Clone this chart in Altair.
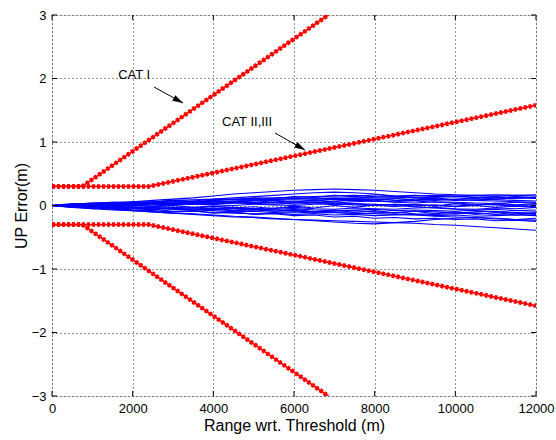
import altair as alt
import pandas as pd

# ---------------- data ----------------
blue_x = [0, 500, 1000, 1500, 2000, 2500, 3000, 3500, 4000, 4500, 5000, 5500,
          6000, 6500, 7000, 7500, 8000, 8500, 9000, 9500, 10000, 10500, 11000,
          11500, 12000]

trace_01 = [0, 0.02, 0.04, 0.05, 0.06, 0.08, 0.10, 0.12, 0.15, 0.18, 0.20, 0.22, 0.24, 0.25, 0.26, 0.25, 0.24, 0.22, 0.20, 0.18, 0.17, 0.16, 0.15, 0.16, 0.15]
trace_02 = [0, 0.01, 0.03, 0.04, 0.05, 0.06, 0.08, 0.09, 0.10, 0.12, 0.14, 0.16, 0.18, 0.20, 0.21, 0.20, 0.18, 0.15, 0.12, 0.10, 0.08, 0.09, 0.10, 0.12, 0.13]
trace_03 = [0, 0.02, 0.03, 0.05, 0.04, 0.06, 0.07, 0.06, 0.08, 0.10, 0.11, 0.12, 0.13, 0.14, 0.15, 0.16, 0.14, 0.13, 0.12, 0.13, 0.14, 0.13, 0.12, 0.14, 0.12]
trace_04 = [0, 0.01, 0.02, 0.02, 0.03, 0.04, 0.03, 0.05, 0.06, 0.05, 0.07, 0.08, 0.09, 0.08, 0.10, 0.09, 0.10, 0.11, 0.09, 0.08, 0.10, 0.11, 0.09, 0.08, 0.07]
trace_05 = [0, 0.00, 0.01, 0.02, 0.01, 0.03, 0.04, 0.03, 0.02, 0.04, 0.05, 0.04, 0.06, 0.05, 0.04, 0.06, 0.07, 0.05, 0.04, 0.06, 0.05, 0.04, 0.03, 0.05, 0.04]
trace_06 = [0, -0.01, 0.00, 0.01, 0.00, -0.01, 0.01, 0.02, 0.01, 0.00, 0.02, 0.01, 0.00, 0.02, 0.03, 0.01, 0.00, 0.02, 0.01, 0.00, -0.01, 0.01, 0.02, 0.00, 0.01]
trace_07 = [0, -0.01, -0.02, -0.01, -0.03, -0.02, -0.03, -0.04, -0.02, -0.03, -0.05, -0.04, -0.03, -0.05, -0.06, -0.04, -0.05, -0.06, -0.04, -0.03, -0.05, -0.06, -0.04, -0.05, -0.03]
trace_08 = [0, -0.02, -0.03, -0.04, -0.05, -0.04, -0.06, -0.07, -0.06, -0.08, -0.07, -0.09, -0.08, -0.10, -0.09, -0.08, -0.10, -0.11, -0.09, -0.10, -0.12, -0.10, -0.09, -0.11, -0.10]
trace_09 = [0, -0.02, -0.04, -0.05, -0.07, -0.08, -0.10, -0.09, -0.11, -0.12, -0.13, -0.12, -0.14, -0.13, -0.15, -0.14, -0.16, -0.15, -0.14, -0.16, -0.15, -0.17, -0.16, -0.15, -0.16]
trace_10 = [0, -0.03, -0.05, -0.07, -0.08, -0.10, -0.12, -0.14, -0.16, -0.18, -0.19, -0.21, -0.22, -0.23, -0.24, -0.25, -0.26, -0.27, -0.28, -0.30, -0.31, -0.33, -0.35, -0.37, -0.39]
trace_11 = [0, -0.02, -0.04, -0.06, -0.08, -0.10, -0.12, -0.13, -0.15, -0.17, -0.18, -0.20, -0.22, -0.24, -0.26, -0.28, -0.29, -0.27, -0.25, -0.22, -0.20, -0.19, -0.21, -0.22, -0.20]
trace_12 = [0, 0.01, 0.02, 0.03, 0.02, 0.04, 0.06, 0.05, 0.07, 0.06, 0.08, 0.07, 0.05, 0.06, 0.04, 0.03, 0.02, 0.00, -0.02, -0.04, -0.06, -0.08, -0.10, -0.12, -0.14]
trace_13 = [0, 0.00, -0.01, 0.00, 0.02, 0.01, 0.03, 0.04, 0.05, 0.07, 0.09, 0.10, 0.11, 0.12, 0.11, 0.12, 0.13, 0.14, 0.15, 0.16, 0.15, 0.16, 0.17, 0.16, 0.17]
trace_14 = [0, -0.01, -0.02, -0.03, -0.02, -0.04, -0.05, -0.06, -0.05, -0.04, -0.06, -0.07, -0.08, -0.10, -0.11, -0.12, -0.13, -0.14, -0.15, -0.17, -0.18, -0.19, -0.20, -0.22, -0.23]
trace_15 = [0, 0.01, 0.00, 0.02, 0.03, 0.02, 0.01, 0.02, 0.03, 0.04, 0.03, 0.02, 0.04, 0.05, 0.07, 0.08, 0.07, 0.06, 0.08, 0.10, 0.09, 0.08, 0.07, 0.06, 0.05]
trace_16 = [0, -0.01, -0.03, -0.02, -0.04, -0.06, -0.05, -0.07, -0.08, -0.10, -0.09, -0.11, -0.10, -0.12, -0.11, -0.13, -0.12, -0.11, -0.13, -0.14, -0.13, -0.12, -0.14, -0.13, -0.12]
trace_17 = [0, 0.01, 0.03, 0.02, 0.04, 0.05, 0.04, 0.06, 0.08, 0.09, 0.10, 0.09, 0.11, 0.10, 0.12, 0.11, 0.10, 0.08, 0.07, 0.05, 0.04, 0.02, 0.01, -0.01, -0.02]
trace_18 = [0, -0.02, -0.01, -0.03, -0.04, -0.03, -0.05, -0.04, -0.06, -0.05, -0.07, -0.06, -0.05, -0.07, -0.08, -0.07, -0.06, -0.08, -0.07, -0.08, -0.09, -0.07, -0.06, -0.08, -0.07]
trace_19 = [0, 0.03, 0.01, 0.04, 0.02, 0.05, 0.03, 0.07, 0.04, 0.06, 0.03, 0.05, 0.02, 0.04, 0.01, 0.03, 0.00, 0.02, -0.01, 0.01, -0.02, 0.00, -0.03, -0.01, -0.02]
trace_20 = [0, -0.03, -0.01, -0.04, -0.02, -0.06, -0.03, -0.07, -0.04, -0.08, -0.05, -0.09, -0.06, -0.10, -0.07, -0.11, -0.08, -0.12, -0.09, -0.13, -0.10, -0.14, -0.11, -0.15, -0.12]
trace_21 = [0, 0.02, -0.01, 0.03, 0.00, 0.04, 0.01, 0.05, 0.02, 0.06, 0.04, 0.08, 0.05, 0.09, 0.06, 0.10, 0.07, 0.11, 0.08, 0.12, 0.09, 0.13, 0.10, 0.12, 0.11]
trace_22 = [0, -0.02, 0.01, -0.01, 0.02, -0.02, 0.00, -0.03, -0.01, -0.04, -0.02, -0.05, -0.01, -0.04, 0.00, -0.03, 0.01, -0.02, 0.02, -0.01, 0.03, 0.00, 0.04, 0.01, 0.03]
trace_23 = [0, 0.02, 0.04, 0.03, 0.06, 0.05, 0.08, 0.07, 0.10, 0.09, 0.12, 0.11, 0.14, 0.13, 0.16, 0.14, 0.17, 0.15, 0.16, 0.14, 0.15, 0.13, 0.14, 0.12, 0.13]
trace_24 = [0, -0.02, -0.05, -0.04, -0.07, -0.06, -0.09, -0.08, -0.12, -0.10, -0.14, -0.13, -0.16, -0.15, -0.18, -0.17, -0.20, -0.19, -0.21, -0.20, -0.22, -0.21, -0.24, -0.23, -0.25]

blue_traces = [trace_01, trace_02, trace_03, trace_04, trace_05, trace_06,
               trace_07, trace_08, trace_09, trace_10, trace_11, trace_12,
               trace_13, trace_14, trace_15, trace_16, trace_17, trace_18,
               trace_19, trace_20, trace_21, trace_22, trace_23, trace_24]

# red limit envelopes (breakpoints)
cat1_x = [0, 750, 6850]
cat1_up = [0.3, 0.3, 3.0]
cat1_lo = [-0.3, -0.3, -3.0]
cat2_x = [0, 2400, 12000]
cat2_up = [0.3, 0.3, 1.58]
cat2_lo = [-0.3, -0.3, -1.58]

labels = ["CAT I", "CAT II,III"]
label_x = [1640, 4215]
label_y = [2.05, 1.31]
arrow_x0 = [2529, 5529]
arrow_y0 = [1.866, 1.142]
arrow_x1 = [3248, 6273]
arrow_y1 = [1.614, 0.874]
arrow_angle = [119, 119.5]

x_ticks = [0, 2000, 4000, 6000, 8000, 10000, 12000]
y_ticks = [-3, -2, -1, 0, 1, 2, 3]

# ---------------- tables ----------------
blue_rows = []
for i, tr in enumerate(blue_traces):
    for xv, yv in zip(blue_x, tr):
        blue_rows.append({"trace": i, "x": xv, "y": yv})
blue_df = pd.DataFrame(blue_rows)

red_rows = []
for name, xs_, ys_ in [("c1u", cat1_x, cat1_up), ("c1l", cat1_x, cat1_lo),
                       ("c2u", cat2_x, cat2_up), ("c2l", cat2_x, cat2_lo)]:
    for k, (xv, yv) in enumerate(zip(xs_, ys_)):
        red_rows.append({"g": name, "o": k, "x": xv, "y": yv})
red_df = pd.DataFrame(red_rows)

ann_df = pd.DataFrame({"label": labels, "lx": label_x, "ly": label_y,
                       "x0": arrow_x0, "y0": arrow_y0, "x1": arrow_x1,
                       "y1": arrow_y1, "ang": arrow_angle})

xt_df = pd.DataFrame({"t": x_ticks})
yt_df = pd.DataFrame({"t": y_ticks})

FONT = "Liberation Sans"
W, H = 484, 381

xs = alt.Scale(domain=[0, 12000], nice=False, zero=False)
ys = alt.Scale(domain=[-3, 3], nice=False, zero=False)

x_axis = alt.Axis(values=x_ticks, title="Range wrt. Threshold (m)", grid=True,
                  gridColor="black", gridDash=[1, 3], gridOpacity=0.85,
                  domain=False, ticks=False, labelPadding=6, labelFontSize=13,
                  labelColor="black", labelFont=FONT, titleFont=FONT,
                  titleFontSize=16, titleFontWeight="normal", titleColor="black",
                  titlePadding=2, labelFlush=False, format="d")
y_axis = alt.Axis(values=y_ticks, title="UP Error(m)", grid=True,
                  gridColor="black", gridDash=[1, 3], gridOpacity=0.85,
                  domain=False, ticks=False, labelPadding=6, labelFontSize=13,
                  labelColor="black", labelFont=FONT, titleFont=FONT,
                  titleFontSize=16, titleFontWeight="normal", titleColor="black",
                  titleX=-31, titleY=H / 2, titleAngle=270, titleAlign="center",
                  titleBaseline="middle", labelFlush=False, format="d")

blue = alt.Chart(blue_df).mark_line(color="#0000ff", strokeWidth=1.1, clip=True).encode(
    x=alt.X("x:Q", scale=xs, axis=x_axis),
    y=alt.Y("y:Q", scale=ys, axis=y_axis),
    detail="trace:N",
)

red_base = alt.Chart(red_df).encode(
    x=alt.X("x:Q", scale=xs),
    y=alt.Y("y:Q", scale=ys),
    detail="g:N",
    order="o:Q",
)
red_line = red_base.mark_line(color="#ff0000", strokeWidth=1.8, clip=True)
red_dash = red_base.mark_line(color="#ff0000", strokeWidth=4.5, strokeDash=[3, 2], clip=True)

txt = alt.Chart(ann_df).mark_text(align="left", baseline="middle", font=FONT,
                                   fontSize=13, color="black").encode(
    x=alt.X("lx:Q", scale=xs), y=alt.Y("ly:Q", scale=ys), text="label:N")

arrow_line = alt.Chart(ann_df).mark_rule(color="black", strokeWidth=1).encode(
    x=alt.X("x0:Q", scale=xs), y=alt.Y("y0:Q", scale=ys),
    x2="x1:Q", y2="y1:Q")

arrow_head = alt.Chart(ann_df).mark_point(
    shape="M0,0 L0.6,2 L-0.6,2 Z", filled=True, color="black", opacity=1,
    size=110).encode(
    x=alt.X("x1:Q", scale=xs), y=alt.Y("y1:Q", scale=ys),
    angle=alt.Angle("ang:Q", scale=None))

# inward tick marks on all four sides (MATLAB box style)
tick_len = 5
xt_bottom = alt.Chart(xt_df).mark_rule(color="black", strokeWidth=1).encode(
    x=alt.X("t:Q", scale=xs), y=alt.value(H), y2=alt.value(H - tick_len))
xt_top = alt.Chart(xt_df).mark_rule(color="black", strokeWidth=1).encode(
    x=alt.X("t:Q", scale=xs), y=alt.value(0), y2=alt.value(tick_len))
yt_left = alt.Chart(yt_df).mark_rule(color="black", strokeWidth=1).encode(
    y=alt.Y("t:Q", scale=ys), x=alt.value(0), x2=alt.value(tick_len))
yt_right = alt.Chart(yt_df).mark_rule(color="black", strokeWidth=1).encode(
    y=alt.Y("t:Q", scale=ys), x=alt.value(W), x2=alt.value(W - tick_len))

chart = alt.layer(blue, red_line, red_dash, arrow_line, arrow_head, txt,
                  xt_bottom, xt_top, yt_left, yt_right).properties(
    width=W, height=H,
    autosize=alt.AutoSizeParams(type="none"),
    padding={"left": 52, "top": 15, "right": 20, "bottom": 44},
).configure_view(stroke="black", strokeWidth=1).configure(background="white")

chart.save("out.html", embed_options={"renderer": "svg", "actions": False})
